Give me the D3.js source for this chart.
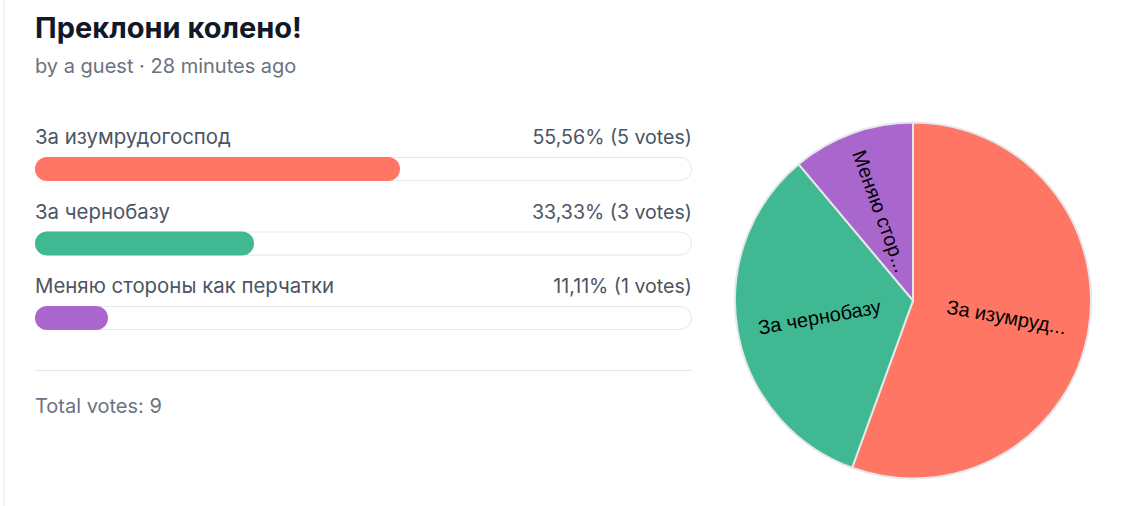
<!DOCTYPE html>
<html>
<head>
<meta charset="utf-8">
<script src="https://cdn.jsdelivr.net/npm/d3@7"></script>
<style>
  html, body { margin: 0; padding: 0; background: #fff; }
  svg { display: block; }
</style>
</head>
<body>
<svg class="chart" width="1121" height="506"></svg>
<script>
const options = ["За изумрудогоспод", "За чернобазу", "Меняю стороны как перчатки"];
const votes = [5, 3, 1];
const colors = ["#ff7664", "#40b993", "#a966cc"];
const title = "Преклони колено!";
const subtitle = "by a guest · 28 minutes ago";

const svg = d3.select(".chart");
const total = d3.sum(votes);
const fmt = v => (v * 100 / total).toFixed(2).replace(".", ",") + "%";

// page frame line on the left
svg.append("rect").attr("x", 3).attr("y", 0).attr("width", 2).attr("height", 506).attr("fill", "#f1f2f5");

svg.append("text")
  .attr("x", 35).attr("y", 38)
  .attr("font-family", "Inter").attr("font-weight", 700).attr("font-size", 29)
  .attr("fill", "#111827")
  .text(title);

svg.append("text")
  .attr("x", 35).attr("y", 73)
  .attr("font-family", "Inter").attr("font-size", 20)
  .attr("fill", "#6b7280")
  .text(subtitle);

// left: bars
const x = d3.scaleLinear().domain([0, total]).range([0, 657]);
const left = 35;
const y = d3.scalePoint().domain(d3.range(options.length)).range([157, 306]);

const rows = svg.selectAll("g.row")
  .data(options)
  .join("g")
  .attr("class", "row")
  .attr("transform", (d, i) => `translate(${left}, ${y(i)})`);

rows.append("text")
  .attr("x", 0).attr("y", -13)
  .attr("font-family", "Inter").attr("font-size", 20.4)
  .attr("fill", "#4b5563")
  .text(d => d);

rows.append("text")
  .attr("x", 657).attr("y", -13)
  .attr("text-anchor", "end")
  .attr("font-family", "Inter").attr("font-size", 19.6)
  .attr("fill", "#4b5563")
  .text((d, i) => `${fmt(votes[i])} (${votes[i]} votes)`);

rows.append("rect")
  .attr("x", 0.5).attr("y", 0.5)
  .attr("width", x(total) - 1).attr("height", 23)
  .attr("rx", 11.5)
  .attr("fill", "#fff")
  .attr("stroke", "#e5e7eb");

rows.append("rect")
  .attr("x", 0).attr("y", 0)
  .attr("width", (d, i) => x(votes[i])).attr("height", 24)
  .attr("rx", 12)
  .attr("fill", (d, i) => colors[i]);

svg.append("line")
  .attr("x1", left).attr("x2", left + 657)
  .attr("y1", 370.5).attr("y2", 370.5)
  .attr("stroke", "#e5e7eb");

svg.append("text")
  .attr("x", left).attr("y", 413)
  .attr("font-family", "Inter").attr("font-size", 20)
  .attr("fill", "#6b7280")
  .text(`Total votes: ${total}`);

// right: pie
const cx = 913, cy = 300.5, radius = 178;
const pie = d3.pie().sort(null).value(d => d);
const arcs = pie(votes);
const arc = d3.arc().innerRadius(0).outerRadius(radius);

const g = svg.append("g").attr("transform", `translate(${cx}, ${cy})`);

g.selectAll("path")
  .data(arcs)
  .join("path")
  .attr("d", arc)
  .attr("fill", (d, i) => colors[i])
  .attr("stroke", "#e5e7eb")
  .attr("stroke-width", 2);

const short = s => s.length > 12 ? s.slice(0, 10) + "..." : s;
const labelR = 95;

g.selectAll("text.slice")
  .data(arcs)
  .join("text")
  .attr("class", "slice")
  .attr("transform", d => {
    const a = (d.startAngle + d.endAngle) / 2;
    let rot = a * 180 / Math.PI - 90;
    if (rot > 90) rot -= 180;
    return `translate(${labelR * Math.sin(a)}, ${-labelR * Math.cos(a)}) rotate(${rot})`;
  })
  .attr("text-anchor", "middle")
  .attr("dominant-baseline", "central")
  .attr("font-family", "Liberation Sans, Arial, sans-serif")
  .attr("font-size", 20)
  .attr("fill", "#000")
  .text((d, i) => short(options[i]));
</script>
</body>
</html>
